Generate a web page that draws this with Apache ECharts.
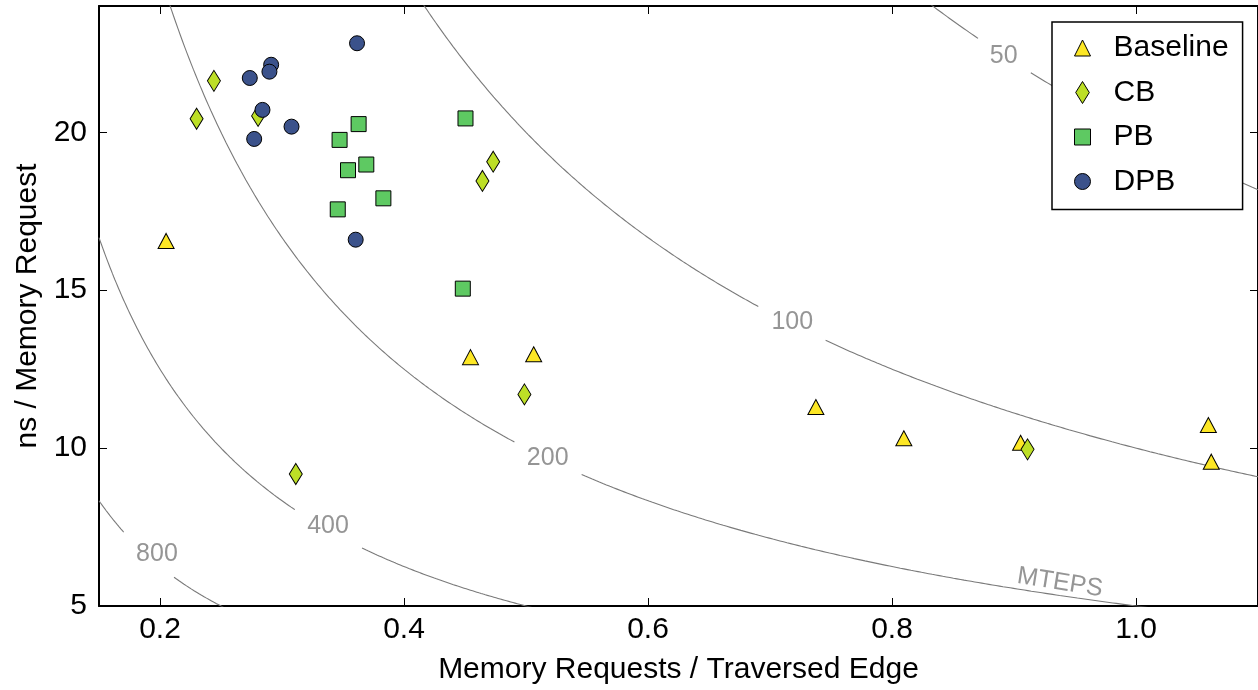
<!DOCTYPE html>
<html><head><meta charset="utf-8">
<script src="https://cdn.jsdelivr.net/npm/echarts@6/dist/echarts.min.js"></script>
<style>html,body{margin:0;padding:0;background:#fff}#c{width:1258px;height:690px}</style>
</head><body><div id="c"></div>
<script>
// ---------------- data ----------------
const seriesNames = ['Baseline', 'CB', 'PB', 'DPB'];
const baseline = [[0.205,16.56],[0.4545,12.88],[0.5063,12.97],[0.7376,11.30],[0.8097,10.31],[0.9054,10.17],[1.0593,10.73],[1.0617,9.57]];
const cb       = [[0.2442,21.63],[0.2300,20.43],[0.2804,20.52],[0.3113,9.18],[0.4643,18.46],[0.4731,19.07],[0.4987,11.70],[0.9111,9.96]];
const pb       = [[0.3628,20.26],[0.3472,19.76],[0.3691,18.98],[0.3541,18.80],[0.3831,17.91],[0.3457,17.56],[0.4504,20.44],[0.4482,15.05]];
const dpb      = [[0.3615,22.82],[0.2911,22.14],[0.2897,21.92],[0.2736,21.72],[0.2840,20.71],[0.3078,20.18],[0.2772,19.79],[0.3604,16.60]];
const mtepsLevels = [50, 100, 200, 400, 800];   // contour levels, MTEPS = 1000 / (x * y)
const xTicks = [0.2, 0.4, 0.6, 0.8, 1.0];
const yTicks = [5, 10, 15, 20];
const xTitle = 'Memory Requests / Traversed Edge';
const yTitle = 'ns / Memory Request';
const unitLabel = 'MTEPS';

// ---------------- layout / style config ----------------
const FONT = '"Liberation Sans", Arial, Helvetica, sans-serif';
const colors = ['#fde725', '#bddf26', '#5ec962', '#3b528b'];
const symbols = ['triangle', 'diamond', 'rect', 'circle'];
const symbolSizes = [[16,15], [13,21], [15,15], [15,15]];
// where each contour label sits (data coords) and the break in the line under it
const labelPlace = {
  50:  {x: 0.8915, y: 22.48, gap: [0.8705, 0.9138]},
  100: {x: 0.7183, y: 14.06, gap: [0.6904, 0.7456]},
  200: {x: 0.5178, y: 9.76,  gap: [0.4905, 0.5456]},
  400: {x: 0.3377, y: 7.59,  gap: [0.3105, 0.3656]},
  800: {x: 0.1975, y: 6.72,  gap: [0.1705, 0.2115]}
};
const unitPlace = {x: 0.9379, y: 5.80, rotate: -9};
const X_MIN = 0.15, X_MAX = 1.1, Y_MIN = 5, Y_MAX = 24;

// ---------------- build ----------------
const scatterData = [baseline, cb, pb, dpb];
const series = [];

mtepsLevels.forEach(level => {
  const k = 1000 / level;
  const a = Math.max(X_MIN, k / Y_MAX * 0.98);
  const b = Math.min(X_MAX, k / Y_MIN * 1.01);
  const g = labelPlace[level].gap;
  const segs = [[a, Math.min(b, g[0])], [Math.max(a, g[1]), b]];
  segs.forEach(([s, e]) => {
    if (e <= s) return;
    const pts = [];
    const N = 160;
    for (let i = 0; i <= N; i++) {
      const x = s + (e - s) * i / N;
      pts.push([x, k / x]);
    }
    series.push({
      type: 'line', data: pts, showSymbol: false, symbol: 'none', silent: true,
      clip: true, z: 1, animation: false,
      lineStyle: {color: '#7a7a7a', width: 1.1}
    });
  });
});

series.push({
  type: 'scatter', silent: true, z: 3, animation: false,
  symbolSize: 1, itemStyle: {color: 'rgba(0,0,0,0)', borderWidth: 0},
  data: mtepsLevels.map(l => ({name: String(l), value: [labelPlace[l].x, labelPlace[l].y]}))
    .concat([{name: unitLabel, value: [unitPlace.x, unitPlace.y],
              label: {rotate: unitPlace.rotate}}]),
  label: {show: true, position: 'inside', offset: [0, 2], formatter: p => p.name,
          fontSize: 25, fontFamily: FONT, color: '#7a7a7a'}
});

seriesNames.forEach((name, i) => {
  series.push({
    name, type: 'scatter', data: scatterData[i], z: 5 + i, animation: false,
    symbol: symbols[i], symbolSize: symbolSizes[i],
    itemStyle: {color: colors[i], borderColor: '#000', borderWidth: 1, opacity: 1}
  });
});

const legendIcons = [
  'path://M8,0 L16,16 L0,16 Z',
  'path://M6.5,0 L13,10.5 L6.5,21 L0,10.5 Z',
  'path://M0,0 L15,0 L15,15 L0,15 Z',
  'circle'
];

const axisCommon = {
  type: 'value',
  splitLine: {show: false},
  axisLine: {show: true, onZero: false, lineStyle: {color: '#000', width: 2}},
  axisTick: {show: true, inside: true, length: 8, lineStyle: {color: '#000', width: 1}}
};

const option = {
  animation: false,
  backgroundColor: '#fff',
  grid: {left: 99, right: -2, top: 6, bottom: 84, containLabel: false},
  xAxis: [
    Object.assign({}, axisCommon, {
      position: 'bottom', min: X_MIN, max: X_MAX,
      axisTick: Object.assign({}, axisCommon.axisTick, {customValues: xTicks}),
      axisLabel: {customValues: xTicks, fontSize: 30, fontFamily: FONT, color: '#000', margin: 9,
                  formatter: v => v.toFixed(1)},
      name: xTitle, nameLocation: 'middle', nameGap: 49,
      nameTextStyle: {fontSize: 30, fontFamily: FONT, color: '#000'}
    }),
    Object.assign({}, axisCommon, {
      position: 'top', min: X_MIN, max: X_MAX,
      axisTick: Object.assign({}, axisCommon.axisTick, {customValues: xTicks}),
      axisLabel: {show: false}
    })
  ],
  yAxis: [
    Object.assign({}, axisCommon, {
      position: 'left', min: Y_MIN, max: Y_MAX,
      axisTick: Object.assign({}, axisCommon.axisTick, {customValues: yTicks}),
      axisLabel: {customValues: yTicks, fontSize: 30, fontFamily: FONT, color: '#000', margin: 12},
      name: yTitle, nameLocation: 'middle', nameGap: 56, nameRotate: 90,
      nameTextStyle: {fontSize: 30, fontFamily: FONT, color: '#000'}
    }),
    Object.assign({}, axisCommon, {
      position: 'right', min: Y_MIN, max: Y_MAX,
      axisTick: Object.assign({}, axisCommon.axisTick, {customValues: yTicks}),
      axisLabel: {show: false}
    })
  ],
  legend: {
    orient: 'vertical', left: 1052, top: 22,
    backgroundColor: '#fff', borderColor: '#000', borderWidth: 1.5, borderRadius: 0,
    padding: [11, 14, 13, 22],
    itemGap: 14.5, itemWidth: 16, itemHeight: 22, symbolKeepAspect: true,
    selectedMode: false,
    textStyle: {fontSize: 30, fontFamily: FONT, color: '#000', padding: [0, 0, 0, 18]},
    itemStyle: {borderColor: '#000', borderWidth: 1},
    data: seriesNames.map((n, i) => ({name: n, icon: legendIcons[i]}))
  },
  series
};

const chart = echarts.init(document.getElementById('c'), null, {renderer: 'canvas'});
chart.setOption(option);
</script>
</body></html>
